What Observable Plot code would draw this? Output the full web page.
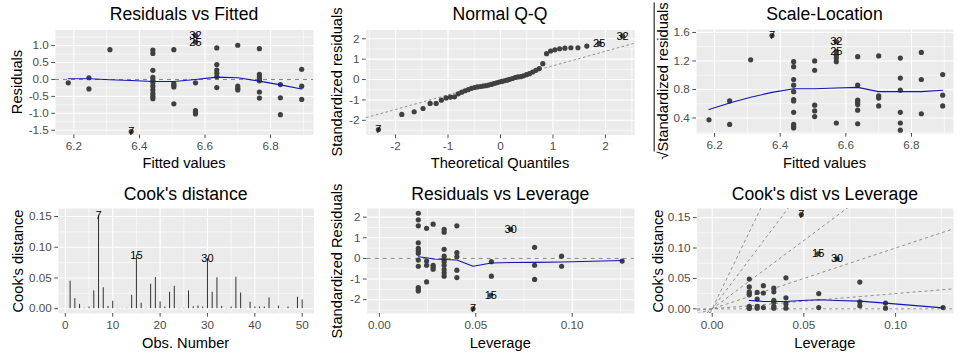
<!DOCTYPE html>
<html>
<head>
<meta charset="utf-8">
<script src="https://cdn.jsdelivr.net/npm/d3@7"></script>
<script src="https://cdn.jsdelivr.net/npm/@observablehq/plot@0.6"></script>
<style>
  html, body { margin: 0; padding: 0; background: #fff; }
  #root { position: relative; width: 962px; height: 358px; overflow: hidden;
          font-family: "Liberation Sans", Arial, Helvetica, sans-serif; }
  .ttl { position: absolute; font-size: 17.6px; color: #000; white-space: nowrap;
         transform: translate(-50%, -50%); line-height: 1; }
  .xlab { position: absolute; font-size: 14.67px; color: #000; white-space: nowrap;
          transform: translate(-50%, -50%); line-height: 1; }
  .ylab { position: absolute; font-size: 14.67px; color: #000; white-space: nowrap;
          transform: translate(-50%, -50%) rotate(-90deg); line-height: 1; }
  .ovl { text-decoration: overline; }
</style>
</head>
<body>
<div id="root"></div>
<script>
const FONT = '"Liberation Sans", Arial, Helvetica, sans-serif';
const DOT = "#404040";
const BLUE = "#1414B4";
const DASH = "#858585";

// ---------- Residuals vs Fitted ----------
const fittedLevels = [6.183, 6.246, 6.31, 6.375, 6.441, 6.505, 6.571, 6.636, 6.7, 6.766, 6.83, 6.895];
const residualsByFitted = [
  [-0.10],
  [0.05, -0.28],
  [0.88],
  [-1.54],
  [0.87, 0.77, 0.27, 0.06, -0.02, -0.10, -0.20, -0.31, -0.42, -0.50, -0.57],
  [0.88, -0.12, -0.17, -0.22, -0.72],
  [1.30, 1.10, -0.10, -0.92, -0.97, -1.02],
  [0.93, 0.44, 0.28, 0.18, 0.08, -0.24],
  [1.01, -0.20, -0.26, -0.31],
  [0.91, 0.15, 0.08, 0.01, -0.04, -0.37, -0.55],
  [-0.15, -0.54, -1.04],
  [0.30, -0.20, -0.59]
];
const rvfSmooth = [0.02, 0.02, -0.01, -0.03, -0.06, -0.06, 0.0, 0.07, 0.05, -0.05, -0.16, -0.28];
const rvfLabelText = ["7", "32", "25"];
const rvfLabelX = [6.375, 6.571, 6.571];
const rvfLabelY = [-1.54, 1.30, 1.10];

// ---------- Normal Q-Q ----------
const qqTheoretical = [-2.3263, -1.8808, -1.6449, -1.4758, -1.3408, -1.2265, -1.1264, -1.0364, -0.9542, -0.8779,
  -0.8064, -0.7388, -0.6745, -0.6128, -0.5534, -0.4959, -0.4399, -0.3853, -0.3319, -0.2793,
  -0.2275, -0.1764, -0.1257, -0.0753, -0.0251, 0.0251, 0.0753, 0.1257, 0.1764, 0.2275,
  0.2793, 0.3319, 0.3853, 0.4399, 0.4959, 0.5534, 0.6128, 0.6745, 0.7388, 0.8064,
  0.8779, 0.9542, 1.0364, 1.1264, 1.2265, 1.3408, 1.4758, 1.6449, 1.8808, 2.3263];
const qqSample = [-2.45, -1.71, -1.58, -1.42, -1.17, -1.17, -1.01, -0.90, -0.86, -0.85,
  -0.70, -0.62, -0.55, -0.49, -0.43, -0.39, -0.36, -0.34, -0.32, -0.30,
  -0.27, -0.24, -0.20, -0.16, -0.12, -0.09, -0.06, -0.03, 0.01, 0.05,
  0.10, 0.13, 0.14, 0.18, 0.24, 0.29, 0.37, 0.45, 0.54, 0.78,
  1.27, 1.40, 1.46, 1.51, 1.54, 1.56, 1.56, 1.64, 1.76, 2.13];
const qqLineSlope = 0.714;
const qqLineIntercept = -0.04;
const qqLabelIndex = [0, 48, 49];
const qqLabelText = ["7", "25", "32"];

// ---------- Scale-Location ----------
const sqrtStdResByFitted = [
  [0.375],
  [0.64, 0.31],
  [1.216],
  [1.557],
  [1.19, 1.12, 0.94, 0.86, 0.77, 0.66, 0.64, 0.48, 0.31, 0.28, 0.26],
  [1.20, 1.07, 0.58, 0.50, 0.42],
  [1.47, 1.33, 1.28, 1.24, 1.19, 0.33],
  [1.26, 0.86, 0.65, 0.62, 0.59, 0.51, 0.32],
  [1.27, 0.71, 0.68, 0.57],
  [1.24, 0.96, 0.79, 0.48, 0.33, 0.23],
  [1.32, 0.94, 0.46],
  [1.01, 0.72, 0.57]
];
const slSmooth = [0.52, 0.61, 0.69, 0.76, 0.81, 0.81, 0.82, 0.83, 0.77, 0.77, 0.77, 0.79];
const slLabelText = ["7", "32", "25"];
const slLabelX = [6.375, 6.571, 6.571];
const slLabelY = [1.557, 1.47, 1.33];

// ---------- Cook's distance ----------
const obsNumber = d3.range(1, 51);
const cooksD = [0.0447, 0.0164, 0.007, 0.0005, 0.0027, 0.0289, 0.151, 0.034, 0.0037, 0.012,
  0.0004, 0.0003, 0.0005, 0.0218, 0.087, 0.009, 0.0004, 0.0398, 0.0507, 0.011,
  0.0027, 0.0267, 0.0365, 0.0004, 0.0006, 0.0289, 0.0032, 0.0043, 0.0027, 0.0818,
  0.0267, 0.0503, 0.0037, 0.0004, 0.0027, 0.051, 0.0256, 0.0004, 0.0104, 0.0027,
  0.0027, 0.0027, 0.0175, 0.0004, 0.0043, 0.0003, 0.0027, 0.0004, 0.0186, 0.0142];
const cookLabelObs = [7, 15, 30];

// ---------- Residuals vs Leverage ----------
const leverageLevels = [0.0202, 0.0245, 0.0279, 0.0336, 0.0402, 0.0486, 0.0578, 0.0581, 0.0681, 0.0805, 0.0945, 0.1259];
const stdResByLeverage = [
  [2.19, 1.87, 1.58, 0.76, 0.49, 0.37, 0.24, -0.08, -0.38, -1.41, -1.51, -1.58],
  [1.46, -0.13, -0.33, -1.14],
  [1.66, -0.33, -0.41, -0.52],
  [1.41, 1.27, 0.44, 0.11, -0.05, -0.16, -0.33, -0.54, -0.70, -0.86],
  [1.58, 0.28, 0.08, -0.57, -0.93],
  [-2.44],
  [-1.79],
  [-0.16, -0.86],
  [1.41],
  [0.54, -0.33, -1.02],
  [0.11, -0.38],
  [-0.13]
];
const rvlSmoothX = [0.0202, 0.0245, 0.0279, 0.0336, 0.0402, 0.0486, 0.0581, 0.0681, 0.0805, 0.0945, 0.1259];
const rvlSmoothY = [0.08, 0.03, -0.03, -0.05, -0.08, -0.38, -0.22, -0.20, -0.19, -0.17, -0.10];
const rvlLabelText = ["7", "15", "30"];
const rvlLabelX = [0.0486, 0.0578, 0.0681];
const rvlLabelY = [-2.44, -1.79, 1.41];

// ---------- Cook's dist vs Leverage ----------
const cookByLeverage = [
  [0.049, 0.036, 0.028, 0.025, 0.023, 0.004, 0.002, 0.0005],
  [0.027, 0.016, 0.004, 0.001],
  [0.038, 0.026, 0.002],
  [0.034, 0.028, 0.014, 0.011, 0.004, 0.001],
  [0.051, 0.018, 0.008, 0.001],
  [0.155],
  [0.0906],
  [0.025, 0.002],
  [0.082],
  [0.044, 0.0115, 0.005],
  [0.0095, 0.001],
  [0.002]
];
const cvlSmoothY = [0.0137, 0.013, 0.012, 0.012, 0.012, 0.0137, 0.0148, 0.0137, 0.0126, 0.0093, 0.0016];
const cvlContourSlopes = [0, 0.25, 1, 2.25, 4, 6.25];
const cvlLabelText = ["7", "15", "30"];
const cvlLabelX = [0.0486, 0.0578, 0.0681];
const cvlLabelY = [0.155, 0.0906, 0.082];

// ---------- helpers ----------
const groupedPoints = (levels, groups) => groups.flatMap((g, i) => g.map(v => ({x: levels[i], y: v})));
const zipXY = (xs, ys) => xs.map((x, i) => ({x, y: ys[i]}));
const zipLabels = (texts, xs, ys) => texts.map((t, i) => ({t, x: xs[i], y: ys[i]}));
const fmt = (n) => (d) => d.toFixed(n);

const root = document.getElementById("root");

function addDiv(cls, html, x, y) {
  const el = document.createElement("div");
  el.className = cls;
  el.innerHTML = html;
  el.style.left = x + "px";
  el.style.top = y + "px";
  root.appendChild(el);
}

function makePanel(cfg) {
  const [mt, mr, mb, ml] = cfg.m;
  const chart = Plot.plot({
    width: cfg.width, height: cfg.height,
    marginTop: mt, marginRight: mr, marginBottom: mb, marginLeft: ml,
    x: {domain: cfg.xDomain},
    y: {domain: cfg.yDomain},
    style: {fontFamily: FONT, fontSize: "11.7px", background: "transparent", overflow: "visible"},
    marks: [
      Plot.frame({fill: "#EBEBEB", stroke: "none"}),
      Plot.ruleX(cfg.xMinor, {stroke: "#fff", strokeWidth: 0.55}),
      Plot.ruleY(cfg.yMinor, {stroke: "#fff", strokeWidth: 0.55}),
      Plot.ruleX(cfg.xMajor, {stroke: "#fff", strokeWidth: 1.1}),
      Plot.ruleY(cfg.yMajor, {stroke: "#fff", strokeWidth: 1.1}),
      ...cfg.marks,
      Plot.axisX(cfg.xMajor, {tickFormat: cfg.xFmt, tickSize: 3.7, tickPadding: 3, color: "#4D4D4D", label: null}),
      Plot.axisY(cfg.yMajor, {tickFormat: cfg.yFmt, tickSize: 3.7, tickPadding: 3, color: "#4D4D4D", label: null})
    ]
  });
  chart.style.position = "absolute";
  chart.style.left = cfg.left + "px";
  chart.style.top = cfg.top + "px";
  root.appendChild(chart);
  const cx = cfg.left + ml + (cfg.width - ml - mr) / 2;
  const cy = cfg.top + mt + (cfg.height - mt - mb) / 2;
  addDiv("ttl", cfg.title, cx, cfg.titleY);
  addDiv("xlab", cfg.xlab, cx, cfg.xlabY);
  addDiv("ylab", cfg.ylab, cfg.ylabX, cy);
}

const dots = (data) => Plot.dot(data, {x: "x", y: "y", r: 2.6, fill: DOT, stroke: "none"});
const labels = (data) => Plot.text(data, {x: "x", y: "y", text: "t", fontSize: 11, fill: "#000"});
const smooth = (data) => Plot.line(data, {x: "x", y: "y", stroke: BLUE, strokeWidth: 1.1});
const zeroLine = Plot.ruleY([0], {stroke: DASH, strokeDasharray: "4,4", strokeWidth: 1});

// Panel 1
const p1X = [6.144, 6.931];
makePanel({
  left: 0, top: 0, width: 320, height: 175, m: [29.5, 7, 40.5, 55],
  xDomain: p1X, yDomain: [-1.641, 1.461],
  xMajor: [6.2, 6.4, 6.6, 6.8], xMinor: [6.3, 6.5, 6.7, 6.9],
  yMajor: [-1.5, -1, -0.5, 0, 0.5, 1], yMinor: [-1.25, -0.75, -0.25, 0.25, 0.75, 1.25],
  xFmt: fmt(1), yFmt: fmt(1),
  marks: [
    zeroLine,
    dots(groupedPoints(fittedLevels, residualsByFitted)),
    smooth(zipXY(fittedLevels, rvfSmooth)),
    labels(zipLabels(rvfLabelText, rvfLabelX, rvfLabelY))
  ],
  title: "Residuals vs Fitted", titleY: 15,
  xlab: "Fitted values", xlabY: 163,
  ylab: "Residuals", ylabX: 17
});

// Panel 2
const p2X = [-2.559, 2.559];
makePanel({
  left: 320, top: 0, width: 320, height: 175, m: [29.5, 5.7, 40.5, 45.7],
  xDomain: p2X, yDomain: [-2.72, 2.43],
  xMajor: [-2, -1, 0, 1, 2], xMinor: [-2.5, -1.5, -0.5, 0.5, 1.5, 2.5],
  yMajor: [-2, -1, 0, 1, 2], yMinor: [-2.5, -1.5, -0.5, 0.5, 1.5],
  xFmt: fmt(0), yFmt: fmt(0),
  marks: [
    Plot.link([qqLineSlope], {
      x1: () => p2X[0], y1: (s) => qqLineIntercept + s * p2X[0],
      x2: () => p2X[1], y2: (s) => qqLineIntercept + s * p2X[1],
      stroke: DASH, strokeDasharray: "2.5,2.5", strokeWidth: 0.9, clip: true
    }),
    dots(zipXY(qqTheoretical, qqSample)),
    labels(qqLabelIndex.map((k, i) => ({t: qqLabelText[i], x: qqTheoretical[k], y: qqSample[k]})))
  ],
  title: "Normal Q-Q", titleY: 15,
  xlab: "Theoretical Quantiles", xlabY: 163,
  ylab: "Standardized residuals", ylabX: 337
});

// Panel 3
makePanel({
  left: 640, top: 0, width: 322, height: 175, m: [29, 9, 42, 56],
  xDomain: [6.145, 6.928], yDomain: [0.183, 1.641],
  xMajor: [6.2, 6.4, 6.6, 6.8], xMinor: [6.3, 6.5, 6.7, 6.9],
  yMajor: [0.4, 0.8, 1.2, 1.6], yMinor: [0.2, 0.6, 1.0, 1.4],
  xFmt: fmt(1), yFmt: fmt(1),
  marks: [
    dots(groupedPoints(fittedLevels, sqrtStdResByFitted)),
    smooth(zipXY(fittedLevels, slSmooth)),
    labels(zipLabels(slLabelText, slLabelX, slLabelY))
  ],
  title: "Scale-Location", titleY: 15,
  xlab: "Fitted values", xlabY: 163,
  ylab: '√<span class="ovl">Standardized residuals</span>', ylabX: 663
});

// Panel 4
const cookTable = obsNumber.map((o, i) => ({obs: o, cook: cooksD[i]}));
makePanel({
  left: 0, top: 175, width: 320, height: 183, m: [33, 6.7, 45, 58],
  xDomain: [-1.45, 52.45], yDomain: [-0.0078, 0.163],
  xMajor: [0, 10, 20, 30, 40, 50], xMinor: [5, 15, 25, 35, 45],
  yMajor: [0, 0.05, 0.1, 0.15], yMinor: [0.025, 0.075, 0.125],
  xFmt: fmt(0), yFmt: fmt(2),
  marks: [
    Plot.ruleX(cookTable, {x: "obs", y1: () => 0, y2: "cook", stroke: "#333", strokeWidth: 1}),
    labels(cookLabelObs.map(o => ({t: String(o), x: o, y: cooksD[o - 1]})))
  ],
  title: "Cook's distance", titleY: 195,
  xlab: "Obs. Number", xlabY: 343,
  ylab: "Cook's distance", ylabX: 17.5
});

// Panel 5
makePanel({
  left: 320, top: 175, width: 320, height: 183, m: [33, 6.2, 45, 46.7],
  xDomain: [-0.0063, 0.1322], yDomain: [-2.67, 2.42],
  xMajor: [0, 0.05, 0.1], xMinor: [0.025, 0.075, 0.125],
  yMajor: [-2, -1, 0, 1, 2], yMinor: [-2.5, -1.5, -0.5, 0.5, 1.5],
  xFmt: fmt(2), yFmt: fmt(0),
  marks: [
    zeroLine,
    dots(groupedPoints(leverageLevels, stdResByLeverage)),
    smooth(zipXY(rvlSmoothX, rvlSmoothY)),
    labels(zipLabels(rvlLabelText, rvlLabelX, rvlLabelY))
  ],
  title: "Residuals vs Leverage", titleY: 195,
  xlab: "Leverage", xlabY: 343,
  ylab: "Standardized Residuals", ylabX: 337
});

// Panel 6
const p6X = [-0.0082, 0.1316];
makePanel({
  left: 640, top: 175, width: 322, height: 183, m: [33, 9, 45, 56.7],
  xDomain: p6X, yDomain: [-0.0077, 0.165],
  xMajor: [0, 0.05, 0.1], xMinor: [0.025, 0.075, 0.125],
  yMajor: [0, 0.05, 0.1, 0.15], yMinor: [0.025, 0.075, 0.125],
  xFmt: fmt(2), yFmt: fmt(2),
  marks: [
    Plot.link(cvlContourSlopes, {
      x1: () => p6X[0], y1: (s) => s * p6X[0],
      x2: () => p6X[1], y2: (s) => s * p6X[1],
      stroke: DASH, strokeDasharray: "3,3", strokeWidth: 0.9, clip: true
    }),
    dots(groupedPoints(leverageLevels, cookByLeverage)),
    smooth(zipXY(rvlSmoothX, cvlSmoothY)),
    labels(zipLabels(cvlLabelText, cvlLabelX, cvlLabelY))
  ],
  title: "Cook's dist vs Leverage", titleY: 195,
  xlab: "Leverage", xlabY: 343,
  ylab: "Cook's distance", ylabX: 658
});
</script>
</body>
</html>
